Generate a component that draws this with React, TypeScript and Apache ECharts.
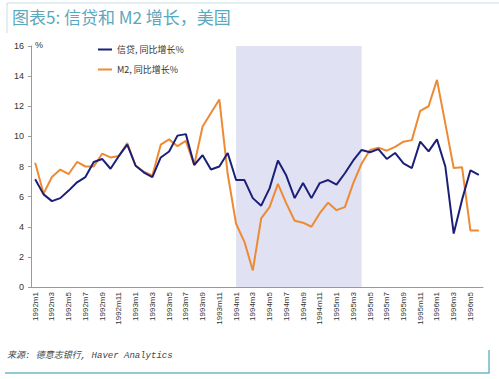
import React, { useEffect, useRef } from "react";
import * as echarts from "echarts";

const years = [1992, 1993, 1994, 1995, 1996];
const months: string[] = [];
years.forEach((y) => {
  for (let m = 1; m <= 12; m++) {
    if (y === 1996 && m > 6) break;
    months.push(`${y}m${m}`);
  }
});

const creditName = "信贷, 同比增长%";
const m2Name = "M2, 同比增长%";

const credit = [
  7.15, 6.15, 5.7, 5.9, 6.4, 6.95, 7.3, 8.3, 8.5, 7.85, 8.7, 9.45,
  8.05, 7.6, 7.3, 8.6, 9.0, 10.05, 10.15, 8.1, 8.75, 7.8, 8.0, 8.9,
  7.1, 7.1, 5.9, 5.4, 6.55, 8.4, 7.4, 5.9, 6.9, 5.9, 6.9, 7.1,
  6.8, 7.55, 8.4, 9.1, 8.95, 9.15, 8.5, 8.9, 8.2, 7.9, 9.65, 9.0,
  9.8, 8.0, 3.55, 5.8, 7.75, 7.45,
];

const m2 = [
  8.25, 6.2, 7.3, 7.8, 7.5, 8.3, 8.0, 8.0, 8.85, 8.6, 8.7, 9.55,
  8.05, 7.65, 7.4, 9.45, 9.8, 9.35, 9.7, 8.1, 10.65, 11.55, 12.45, 7.5,
  4.2, 3.0, 1.1, 4.55, 5.3, 6.85, 5.55, 4.4, 4.27, 4.0, 4.9, 5.6,
  5.1, 5.3, 6.9, 8.2, 9.1, 9.25, 9.05, 9.3, 9.65, 9.75, 11.7, 12.0,
  13.75, 10.85, 7.9, 7.95, 3.75, 3.75,
];

const shadeStart = "1994m1";
const shadeEnd = "1995m4";

export default function App() {
  const ref = useRef<HTMLDivElement>(null);
  useEffect(() => {
    if (!ref.current) return;
    const chart = echarts.init(ref.current, undefined, { renderer: "svg" });
    const font = "Noto Sans CJK SC, Liberation Sans, sans-serif";
    chart.setOption({
      animation: false,
      backgroundColor: "#ffffff",
      textStyle: { fontFamily: font },
      grid: { left: 31, top: 46, width: 452, height: 241, containLabel: false },
      legend: {
        data: [creditName, m2Name],
        orient: "vertical",
        left: 93,
        top: 40,
        itemGap: 11,
        itemWidth: 14,
        itemHeight: 2,
        icon: "rect",
        textStyle: { fontSize: 9, color: "#333", fontFamily: font },
      },
      xAxis: {
        type: "category",
        data: months,
        boundaryGap: true,
        axisLine: { lineStyle: { color: "#999" } },
        axisTick: { interval: 0, length: 3, lineStyle: { color: "#999" } },
        axisLabel: {
          interval: 1,
          rotate: 90,
          fontSize: 8,
          color: "#333",
          margin: 5,
          fontFamily: "Liberation Sans, sans-serif",
        },
        splitLine: { show: false },
      },
      yAxis: {
        type: "value",
        min: 0,
        max: 16,
        interval: 2,
        axisLine: { show: true, lineStyle: { color: "#999" } },
        axisTick: { show: true, length: 3, lineStyle: { color: "#999" } },
        axisLabel: {
          fontSize: 9,
          color: "#333",
          margin: 7,
          fontFamily: "Liberation Sans, sans-serif",
        },
        splitLine: { show: false },
      },
      series: [
        {
          name: creditName,
          type: "line",
          data: credit,
          showSymbol: false,
          symbol: "none",
          clip: false,
          z: 3,
          lineStyle: { color: "#1b1f78", width: 2 },
          itemStyle: { color: "#1b1f78" },
          markArea: {
            silent: true,
            itemStyle: { color: "#e0e2f3", opacity: 1 },
            data: [[{ xAxis: shadeStart, yAxis: 0 }, { xAxis: shadeEnd, yAxis: 16.46 }]],
          },
        },
        {
          name: m2Name,
          type: "line",
          data: m2,
          showSymbol: false,
          symbol: "none",
          z: 2,
          lineStyle: { color: "#ee8a34", width: 2 },
          itemStyle: { color: "#ee8a34" },
        },
      ],
      graphic: [
        {
          type: "polyline",
          shape: { points: [[7, 33], [7, 3], [499, 3]] },
          style: { stroke: "#c5dde3", lineWidth: 1, fill: "none" },
          silent: true,
        },
        {
          type: "text",
          left: 12,
          top: 8,
          style: {
            text: "图表5: 信贷和 M2 增长，美国",
            fontSize: 17,
            fill: "#5aa8bd",
            fontFamily: font,
          },
        },
        {
          type: "text",
          left: 35,
          top: 40,
          style: { text: "%", fontSize: 9, fill: "#333", fontFamily: "Liberation Sans, sans-serif" },
        },
        {
          type: "text",
          left: 7,
          top: 351,
          style: {
            text: "来源: 德意志银行, Haver Analytics",
            fontSize: 9,
            fontStyle: "italic",
            fill: "#444",
            fontFamily: "Liberation Mono, Noto Sans CJK SC, monospace",
          },
        },
        {
          type: "polyline",
          shape: { points: [[5, 373], [489, 373], [489, 350]] },
          style: { stroke: "#6db9c2", lineWidth: 1.5, fill: "none" },
          silent: true,
        },
      ],
    });
    return () => chart.dispose();
  }, []);
  return (
    <div
      ref={ref}
      style={{ position: "fixed", left: 0, top: 0, width: 499, height: 379 }}
    />
  );
}
